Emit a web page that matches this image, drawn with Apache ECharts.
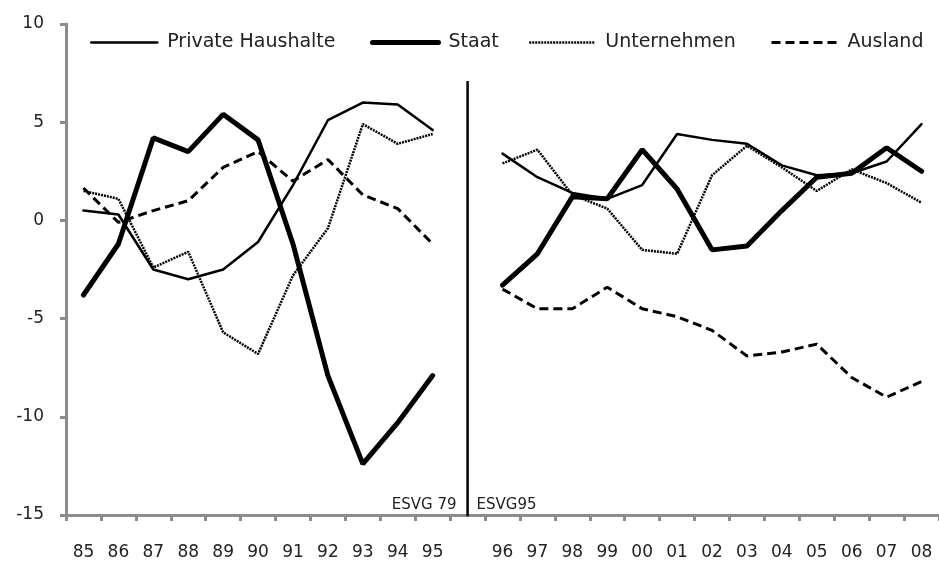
<!DOCTYPE html>
<html>
<head>
<meta charset="utf-8">
<script src="https://cdn.jsdelivr.net/npm/echarts@6/dist/echarts.min.js"></script>
<style>html,body{margin:0;padding:0;background:#fff;}#c{width:939px;height:563px;}</style>
</head>
<body>
<div id="c"></div>
<script>
var categories = ['85','86','87','88','89','90','91','92','93','94','95','','96','97','98','99','00','01','02','03','04','05','06','07','08'];
var yTicks = { min: -15, max: 10, interval: 5 };
var seriesNames = ['Private Haushalte','Staat','Unternehmen','Ausland'];
var privateHaushalte = [0.5,0.3,-2.5,-3.0,-2.5,-1.1,1.8,5.1,6.0,5.9,4.6,null,3.4,2.2,1.4,1.1,1.8,4.4,4.1,3.9,2.8,2.3,2.4,3.0,4.9];
var staat = [-3.8,-1.2,4.2,3.5,5.4,4.1,-1.2,-7.9,-12.4,-10.3,-7.9,null,-3.3,-1.7,1.2,1.1,3.6,1.6,-1.5,-1.3,0.5,2.2,2.4,3.7,2.5];
var unternehmen = [1.5,1.1,-2.4,-1.6,-5.7,-6.8,-2.8,-0.4,4.9,3.9,4.4,null,2.9,3.6,1.3,0.6,-1.5,-1.7,2.3,3.8,2.7,1.5,2.6,1.9,0.9];
var ausland = [1.65,-0.1,0.5,1.0,2.7,3.5,2.0,3.1,1.3,0.6,-1.2,null,-3.5,-4.5,-4.5,-3.4,-4.5,-4.9,-5.6,-6.9,-6.7,-6.3,-8.0,-9.0,-8.2];
var breakLabels = ['ESVG 79', 'ESVG95'];
var breakRange = [7.1, -15.2];
var breakIndex = categories.indexOf('');

var FONT = 'DejaVu Sans';
var chart = echarts.init(document.getElementById('c'));
var gray = '#8c8c8c';
var lineStyles = [
  { color: '#000', width: 2.5, type: 'solid', cap: 'round' },
  { color: '#000', width: 5, type: 'solid', cap: 'round' },
  { color: '#000', width: 2.5, type: [2, 1], cap: 'butt' },
  { color: '#000', width: 3, type: [9, 5], cap: 'butt' }
];
var legendLefts = [90, 370, 528, 770];
var legends = seriesNames.map(function (n, i) {
  return {
    left: legendLefts[i], top: 33, padding: 0, itemWidth: 66, itemHeight: 14,
    itemStyle: { opacity: 0 },
    lineStyle: { width: lineStyles[i].width, type: lineStyles[i].type, color: '#000', cap: lineStyles[i].cap },
    textStyle: { fontSize: 19, color: '#222', fontFamily: FONT, padding: [0, 0, 0, 5] },
    data: [n], selectedMode: false
  };
});
var dataArrays = [privateHaushalte, staat, unternehmen, ausland];
var series = seriesNames.map(function (n, i) {
  return { name: n, type: 'line', data: dataArrays[i], symbol: 'none',
    lineStyle: lineStyles[i], itemStyle: { color: '#000' } };
});
series.push({ name: 'break', type: 'line', silent: true, symbol: 'none',
  data: [[breakIndex, breakRange[0]], [breakIndex, breakRange[1]]],
  lineStyle: { color: '#000', width: 2.5 }, itemStyle: { color: '#000' },
  markPoint: { silent: true, symbol: 'circle', symbolSize: 0,
    data: [
      { coord: [breakIndex, -14.5], label: { show: true, formatter: breakLabels[0], fontSize: 15, color: '#222', align: 'right', offset: [-11, 0] } },
      { coord: [breakIndex, -14.5], label: { show: true, formatter: breakLabels[1], fontSize: 15, color: '#222', align: 'left', offset: [9, 0] } }
    ] } });

chart.setOption({
  animation: false,
  textStyle: { fontFamily: FONT },
  legend: legends,
  grid: { left: 66, right: 0, top: 24, bottom: 48 },
  xAxis: [
    { type: 'category', data: categories, position: 'bottom',
      axisLine: { show: false }, axisTick: { show: false },
      axisLabel: { fontSize: 17, color: '#222', margin: 29, interval: 0 } },
    { type: 'category', data: categories, position: 'bottom',
      axisLine: { show: true, onZero: true, lineStyle: { color: gray, width: 3 } },
      axisTick: { show: true, length: 6, interval: 0, lineStyle: { color: gray, width: 3 } },
      axisLabel: { show: false } }
  ],
  yAxis: {
    type: 'value', min: yTicks.min, max: yTicks.max, interval: yTicks.interval,
    axisLine: { show: true, lineStyle: { color: gray, width: 3 } },
    axisTick: { show: true, length: 6, lineStyle: { color: gray, width: 3 } },
    splitLine: { show: false },
    axisLabel: { fontSize: 17, color: '#222', margin: 22 }
  },
  series: series
});
</script>
</body>
</html>
